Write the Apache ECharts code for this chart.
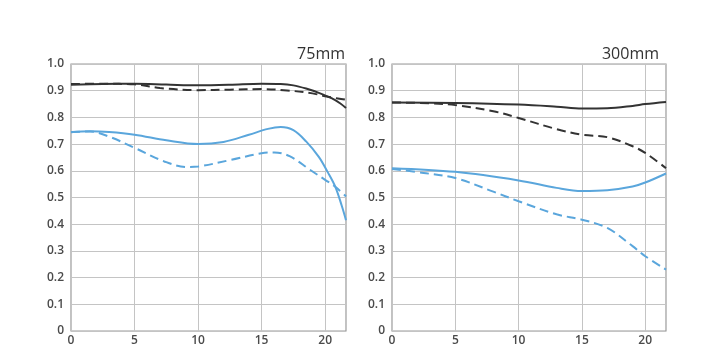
<!DOCTYPE html>
<html><head><meta charset="utf-8">
<script src="https://cdn.jsdelivr.net/npm/echarts@6/dist/echarts.min.js"></script>
<style>html,body{margin:0;padding:0;background:#fff}#c{width:728px;height:363px}</style>
</head><body><div id="c"></div>
<script>
const panelTitles = ['75mm', '300mm'];
const yTicks = [0, 0.1, 0.2, 0.3, 0.4, 0.5, 0.6, 0.7, 0.8, 0.9, 1.0];
const xTicks = [0, 5, 10, 15, 20];
const xMax = 21.64;

// 75mm
const w_blackSolid_x = [0, 2.5, 5, 7.5, 10, 12.5, 15, 16.5, 17.5, 18.5, 19.5, 20.5, 21.2, 21.64];
const w_blackSolid_y = [0.922, 0.925, 0.926, 0.923, 0.92, 0.922, 0.926, 0.925, 0.92, 0.908, 0.892, 0.872, 0.852, 0.835];
const w_blackDash_x = [0, 2.5, 5, 7, 10, 12.5, 15, 17, 19, 20, 21, 21.64];
const w_blackDash_y = [0.925, 0.926, 0.924, 0.91, 0.902, 0.904, 0.906, 0.901, 0.89, 0.879, 0.871, 0.866];
const w_blueSolid_x = [0, 1.5, 3, 5, 7.5, 10, 12, 14, 15.5, 16.5, 17.5, 18.5, 19.5, 20.2, 20.8, 21.3, 21.64];
const w_blueSolid_y = [0.744, 0.748, 0.745, 0.735, 0.714, 0.7, 0.708, 0.735, 0.757, 0.764, 0.752, 0.71, 0.652, 0.595, 0.54, 0.47, 0.415];
const w_blueDash_x = [0, 1.5, 3, 5, 7.3, 9.1, 10, 12.5, 15, 16, 17.2, 18.8, 20, 20.8, 21.64];
const w_blueDash_y = [0.745, 0.747, 0.728, 0.686, 0.636, 0.614, 0.616, 0.64, 0.666, 0.669, 0.655, 0.604, 0.566, 0.54, 0.504];

// 300mm
const t_blackSolid_x = [0, 5, 10, 13, 15, 17, 19, 20, 21.64];
const t_blackSolid_y = [0.856, 0.854, 0.848, 0.84, 0.833, 0.834, 0.843, 0.85, 0.858];
const t_blackDash_x = [0, 3, 5, 8, 10, 13, 15, 17, 19, 20, 21.64];
const t_blackDash_y = [0.856, 0.853, 0.846, 0.823, 0.798, 0.756, 0.735, 0.726, 0.692, 0.667, 0.61];
const t_blueSolid_x = [0, 5, 10, 13, 15, 17, 19, 20, 21.64];
const t_blueSolid_y = [0.61, 0.596, 0.564, 0.536, 0.524, 0.527, 0.541, 0.556, 0.59];
const t_blueDash_x = [0, 2.5, 5, 8, 10, 13, 15, 17, 19, 20, 21.64];
const t_blueDash_y = [0.607, 0.592, 0.573, 0.522, 0.486, 0.437, 0.417, 0.386, 0.318, 0.28, 0.23];

const BLACK = '#333333', BLUE = '#5aa6dc';
const pairs = (xs, ys) => xs.map((x, i) => [x, ys[i]]);

const grids = [
  {left: 71, top: 64, width: 275, height: 267},
  {left: 392, top: 64, width: 274, height: 267}
];
const gridStyle = {show: true, borderColor: '#9a9a9a', borderWidth: 1.2, backgroundColor: '#fff'};
const labelStyle = {color: '#4a4a4a', fontSize: 12, fontWeight: 600, fontFamily: 'Open Sans'};

function xAxis(gi) {
  return {type: 'value', gridIndex: gi, min: 0, max: xMax, interval: 5,
    axisLine: {show: false}, axisTick: {show: false},
    splitLine: {show: true, lineStyle: {color: '#c4c4c4', width: 1}},
    axisLabel: Object.assign({margin: 4,
      formatter: v => (xTicks.indexOf(Math.round(v * 100) / 100) >= 0 ? String(v) : '')}, labelStyle)};
}
function yAxis(gi) {
  return {type: 'value', gridIndex: gi, min: 0, max: 1, interval: 0.1,
    axisLine: {show: false}, axisTick: {show: false},
    splitLine: {show: true, lineStyle: {color: '#c4c4c4', width: 1}},
    axisLabel: Object.assign({margin: 7,
      formatter: v => (Math.abs(v) < 1e-9 ? '0' : v.toFixed(1))}, labelStyle)};
}
function line(gi, data, color, dashed) {
  return {type: 'line', xAxisIndex: gi, yAxisIndex: gi, data, smooth: 0.35, symbol: 'none',
    lineStyle: {color, width: 2, type: dashed ? [9, 5] : 'solid'}, silent: true, animation: false};
}

const chart = echarts.init(document.getElementById('c'), null, {renderer: 'canvas'});
const titleStyle = {fontSize: 16, fontWeight: 'normal', color: '#333', fontFamily: 'Open Sans'};
chart.setOption({
  backgroundColor: '#fff',
  animation: false,
  title: [
    {text: panelTitles[0], right: 383, top: 46, padding: 0, textStyle: titleStyle},
    {text: panelTitles[1], right: 69, top: 46, padding: 0, textStyle: titleStyle}
  ],
  grid: grids.map(g => Object.assign({}, g, gridStyle)),
  xAxis: [xAxis(0), xAxis(1)],
  yAxis: [yAxis(0), yAxis(1)],
  series: [
    line(0, pairs(w_blackDash_x, w_blackDash_y), BLACK, true),
    line(0, pairs(w_blackSolid_x, w_blackSolid_y), BLACK, false),
    line(0, pairs(w_blueDash_x, w_blueDash_y), BLUE, true),
    line(0, pairs(w_blueSolid_x, w_blueSolid_y), BLUE, false),
    line(1, pairs(t_blackDash_x, t_blackDash_y), BLACK, true),
    line(1, pairs(t_blackSolid_x, t_blackSolid_y), BLACK, false),
    line(1, pairs(t_blueDash_x, t_blueDash_y), BLUE, true),
    line(1, pairs(t_blueSolid_x, t_blueSolid_y), BLUE, false)
  ]
});
</script></body></html>
